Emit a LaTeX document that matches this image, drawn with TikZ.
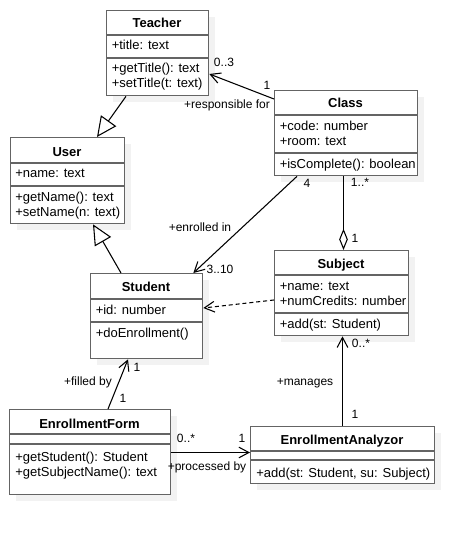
\documentclass[tikz,border=0pt]{standalone}
\usepackage{fontspec}
\setmainfont{Liberation Sans}
\usetikzlibrary{arrows.meta}
\definecolor{shadowc}{RGB}{242,242,242}
\definecolor{framec}{RGB}{100,100,100}
\newcommand\umlbox[5]{%
  \fill[shadowc] (#2+7,#3+7) rectangle ++(#4,#5);
  \node[umlframe, anchor=north west, minimum width=#4*0.75pt, minimum height=#5*0.75pt] (#1) at (#2,#3) {};}
\newcommand\umlsep[3]{\draw[umlline] (#1.north west) ++(0,#2) -- ++(#3,0);}
\begin{document}
\begin{tikzpicture}[x=0.75pt,y=-0.75pt,
  umlframe/.style={draw=framec, fill=white, line width=1pt, inner sep=0pt},
  umlline/.style={draw=framec, line width=1pt},
  txt/.style={font=\fontsize{9.75}{11}\selectfont, inner sep=0pt, anchor=base west},
  ttl/.style={font=\fontsize{9.75}{11}\selectfont\bfseries, inner sep=0pt, anchor=base},
  lbl/.style={font=\fontsize{9}{10.5}\selectfont, inner sep=0pt},
  conn/.style={draw=black, line width=0.8pt},
  openarrow/.style={-{Straight Barb[length=7.5pt,width=8pt]}},
  genarrow/.style={-{Triangle[open,length=15pt,width=14pt]}},
  aggarrow/.style={-{Diamond[open,length=16pt,width=6.5pt]}}]
\useasboundingbox (0,0) rectangle (474,535);

% Teacher
\umlbox{teacher}{106}{10}{102}{85}
\umlsep{teacher}{25}{102}
\umlsep{teacher}{48}{102}
\node[ttl] (tT) at (157,27.5) {Teacher};
\node[txt] (tA1) at (111.5,49.5) {+title: text};
\node[txt] (tM1) at (111.5,72.5) {+getTitle(): text};
\node[txt] (tM2) at (111.5,87.5) {+setTitle(t: text)};

% User
\umlbox{user}{10}{137}{114}{86}
\umlsep{user}{26}{114}
\umlsep{user}{49}{114}
\node[ttl] (uT) at (67,156) {User};
\node[txt] (uA1) at (15,177.5) {+name: text};
\node[txt] (uM1) at (15,201.5) {+getName(): text};
\node[txt] (uM2) at (15,216.5) {+setName(n: text)};

% Student
\umlbox{student}{90}{273}{112}{85}
\umlsep{student}{26}{112}
\umlsep{student}{49}{112}
\node[ttl] (sT) at (146,291) {Student};
\node[txt] (sA1) at (95.5,314.5) {+id: number};
\node[txt] (sM1) at (95.5,337.5) {+doEnrollment()};

% Class
\umlbox{class}{274}{90}{143}{85}
\umlsep{class}{25}{143}
\umlsep{class}{63}{143}
\node[ttl] (cT) at (345.5,108) {Class};
\node[txt] (cA1) at (279.5,130.5) {+code: number};
\node[txt] (cA2) at (279.5,145) {+room: text};
\node[txt] (cM1) at (279.5,168.5) {+isComplete(): boolean};

% Subject
\umlbox{subject}{274}{250}{134}{85}
\umlsep{subject}{25}{134}
\umlsep{subject}{63}{134}
\node[ttl] (bT) at (341,268) {Subject};
\node[txt] (bA1) at (279.5,290.5) {+name: text};
\node[txt] (bA2) at (279.5,305.5) {+numCredits: number};
\node[txt] (bM1) at (279.5,328) {+add(st: Student)};

% EnrollmentForm
\umlbox{eform}{9}{409}{161}{85}
\umlsep{eform}{25}{161}
\umlsep{eform}{35}{161}
\node[ttl] (fT) at (89.5,428) {EnrollmentForm};
\node[txt] (fM1) at (15,461) {+getStudent(): Student};
\node[txt] (fM2) at (15,476) {+getSubjectName(): text};

% EnrollmentAnalyzor
\umlbox{eanal}{250}{426}{184}{57}
\umlsep{eanal}{25}{184}
\umlsep{eanal}{34}{184}
\node[ttl] (aT) at (342,444) {EnrollmentAnalyzor};
\node[txt] (aM1) at (256,477) {+add(st: Student, su: Subject)};

% Connectors
\draw[conn,genarrow] ([shift={(20,0)}]teacher.south west) -- ([shift={(87,0)}]user.north west);
\draw[conn,genarrow] ([shift={(31,0)}]student.north west) -- ([shift={(83,0)}]user.south west);
\draw[conn,openarrow] ([shift={(0,9)}]class.north west) -- ([shift={(0,64)}]teacher.north east);
\draw[conn,openarrow] ([shift={(23,0)}]class.south west) -- ([shift={(-10,0)}]student.north east);
\draw[conn,aggarrow] ([shift={(69.5,0)}]class.south west) -- ([shift={(69.5,0)}]subject.north west);
\draw[conn,openarrow,dash pattern=on 3pt off 2.2pt] ([shift={(0,50)}]subject.north west) -- ([shift={(0,35)}]student.north east);
\draw[conn,openarrow] ([shift={(99,0)}]eform.north west) -- ([shift={(38,0)}]student.south west);
\draw[conn,openarrow] ([shift={(0,43.5)}]eform.north east) -- ([shift={(0,26.5)}]eanal.north west);
\draw[conn,openarrow] ([shift={(92.5,0)}]eanal.north west) -- ([shift={(68.5,0)}]subject.south west);

% Labels
\node[lbl] (l1) at (224,62) {0..3};
\node[lbl] (l2) at (267,85) {1};
\node[lbl] (l3) at (227,105) {+responsible for};
\node[lbl] (l4) at (307,183) {4};
\node[lbl] (l5) at (360,182) {1..*};
\node[lbl] (l6) at (200,227) {+enrolled in};
\node[lbl] (l7) at (220,269.5) {3..10};
\node[lbl] (l8) at (355,238) {1};
\node[lbl] (l9) at (88,382) {+filled by};
\node[lbl] (l10) at (137,367) {1};
\node[lbl] (l11) at (123,398) {1};
\node[lbl] (l12) at (186,438) {0..*};
\node[lbl] (l13) at (242,438) {1};
\node[lbl] (l14) at (207,467) {+processed by};
\node[lbl] (l15) at (361,343) {0..*};
\node[lbl] (l16) at (305,383) {+manages};
\node[lbl] (l17) at (355,414) {1};
\end{tikzpicture}
\end{document}
